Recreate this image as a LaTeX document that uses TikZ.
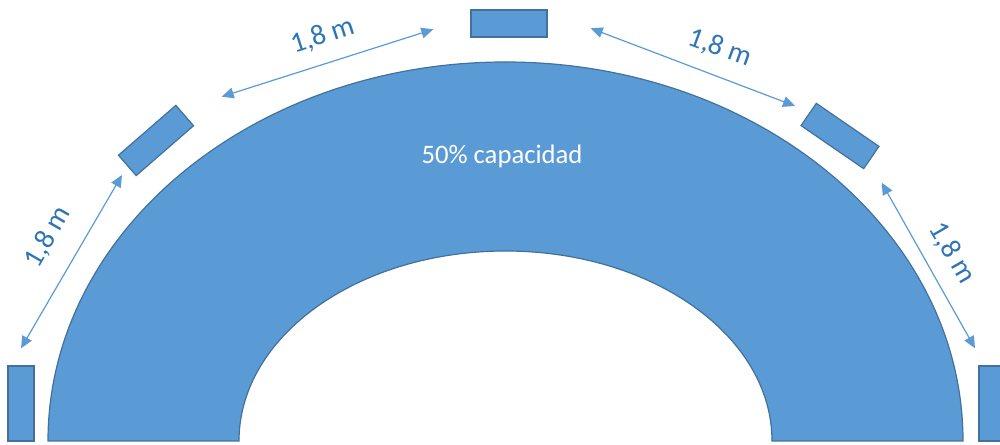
\documentclass[tikz,border=0pt]{standalone}
\usepackage{fontspec}
\setmainfont{Carlito}
\usetikzlibrary{arrows.meta}
\definecolor{officeblue}{HTML}{5B9BD5}
\definecolor{officeedge}{HTML}{41719C}
\definecolor{labelblue}{HTML}{2E75B6}
\tikzset{
  seat/.style={draw=officeedge, fill=officeblue, line width=0.9pt, minimum width=57pt, minimum height=20.25pt, inner sep=0pt},
  seatv/.style={draw=officeedge, fill=officeblue, line width=0.9pt, minimum width=19.5pt, minimum height=56.25pt, inner sep=0pt},
  dist/.style={draw=officeblue, line width=0.9pt, {Triangle[width=8pt,length=9pt]}-{Triangle[width=8pt,length=9pt]}},
  distlabel/.style={text=labelblue, font=\fontsize{21.5}{24}\selectfont, inner sep=0pt},
}
\begin{document}
\begin{tikzpicture}[x=0.75pt,y=0.75pt]
\useasboundingbox (0,0) rectangle (1000,445);
% arch
\path[draw=officeedge, fill=officeblue, line width=0.9pt]
  (48,4) arc[start angle=180, end angle=0, x radius=457.5, y radius=379]
  -- (772,4) arc[start angle=0, end angle=180, x radius=266.5, y radius=190] -- cycle;
\node[text=white, font=\fontsize{20}{24}\selectfont, inner sep=0pt] (cap) at (502,289) {50\% capacidad};
% seats
\node[seat] (top) at (509,421.5) {};
\node[seat, rotate=41] (ul) at (156,304.5) {};
\node[seat, rotate=-34.5] (ur) at (840,309) {};
\node[seatv] (bl) at (21,41.5) {};
\node[seatv] (br) at (992,41.5) {};
% arrow endpoints
\coordinate (a1) at (221.7,348.3);
\coordinate (a2) at (433.3,415.7);
\coordinate (b1) at (590.7,416.7);
\coordinate (b2) at (795,339);
\coordinate (c1) at (21,96.7);
\coordinate (c2) at (122,270);
\coordinate (d1) at (881.7,262.3);
\coordinate (d2) at (975,96.7);
\draw[dist] (a1) -- (a2);
\draw[dist] (b1) -- (b2);
\draw[dist] (c1) -- (c2);
\draw[dist] (d1) -- (d2);
% labels
\node[distlabel, rotate=18] (la) at (323,409) {1,8 m};
\node[distlabel, rotate=-20] (lb) at (720,397) {1,8 m};
\node[distlabel, rotate=60] (lc) at (48,208) {1,8 m};
\node[distlabel, rotate=-60] (ld) at (952,192) {1,8 m};
\end{tikzpicture}
\end{document}
